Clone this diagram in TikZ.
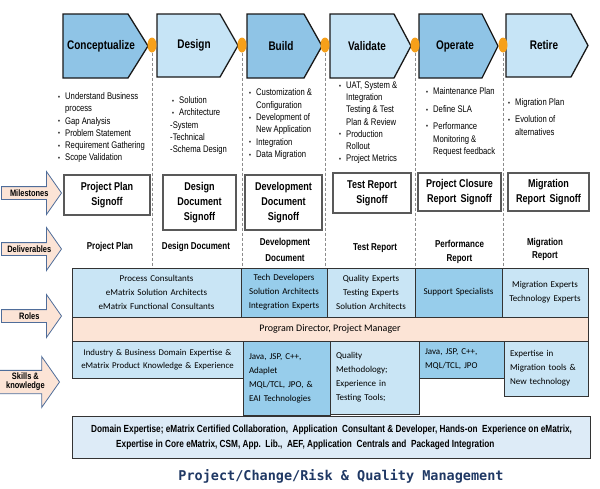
\documentclass[tikz,border=0pt]{standalone}
\usepackage{fontspec}
\setmainfont{Liberation Sans}[FakeStretch=0.8]
\newfontfamily\calfont{Carlito}
\newfontfamily\titlemono{DejaVu Sans Mono}
\usetikzlibrary{shapes.geometric,shapes.arrows,positioning}
\definecolor{chevdark}{HTML}{8FC4E6}
\definecolor{chevlight}{HTML}{C6E4F6}
\definecolor{roledark}{HTML}{97CDEB}
\definecolor{rolelight}{HTML}{C9E5F5}
\definecolor{peach}{HTML}{FCE4D6}
\definecolor{tagline}{HTML}{4F6D9A}
\definecolor{dotorange}{HTML}{F6A01A}
\definecolor{sepgray}{HTML}{8C8C8C}
\definecolor{boxgray}{HTML}{595959}
\definecolor{barblue}{HTML}{DDEBF7}
\definecolor{navy}{HTML}{1F3864}
\newcommand{\bl}{\makebox[7pt][l]{\raisebox{0.5pt}{\scriptsize\textbullet}}}
\newcommand{\ind}{\hspace*{7pt}}
\tikzset{
  phase/.style={draw=black!90,line width=1.3pt,line join=miter},
  phasedark/.style={phase,fill=chevdark},
  phaselight/.style={phase,fill=chevlight},
  phaselabel/.style={inner sep=0pt,font=\bfseries\fontsize{12.5}{14}\selectfont},
  sepdot/.style={ellipse,fill=dotorange,minimum width=9pt,minimum height=15pt,inner sep=0pt},
  sepline/.style={draw=sepgray,line width=1pt,dash pattern=on 3pt off 2pt},
  bullets/.style={anchor=north west,inner sep=0pt,align=left,font=\fontsize{9.6}{12.2}\selectfont},
  tag/.style={single arrow,single arrow head extend=9pt,single arrow tip angle=110,draw=tagline,line width=0.8pt,fill=peach,minimum height=60pt,minimum width=43pt,inner sep=0pt,anchor=tip,align=center,font=\bfseries\fontsize{9.3}{9}\selectfont},
  milestone/.style={draw=boxgray,line width=2pt,fill=white,align=center,inner sep=0pt,font=\bfseries\fontsize{11.3}{15}\selectfont},
  deliv/.style={align=center,inner sep=0pt,font=\bfseries\fontsize{10}{14}\selectfont},
  cell/.style={draw=black!80,line width=0.8pt,outer sep=0pt,inner ysep=0pt,font=\calfont\fontsize{9}{14}\selectfont},
  rolebox/.style={cell,align=center,inner xsep=4pt,minimum height=49pt},
  skillbox/.style={cell,align=left,inner xsep=6pt,anchor=north west},
  every node/.style={font=\fontsize{9.3}{12}\selectfont}
}
\begin{document}
\begin{tikzpicture}[x=1pt,y=-1pt]
\useasboundingbox (0,0) rectangle (600,488);

% phases
\draw[phasedark] (63,14) -- (128,14) -- (148,46) -- (128,78) -- (63,78) -- cycle;
\draw[phaselight] (157,14) -- (220,14) -- (238,45.5) -- (220,77) -- (157,77) -- cycle;
\draw[phasedark] (247,14) -- (304,14) -- (322,46) -- (304,78) -- (247,78) -- cycle;
\draw[phaselight] (330,14) -- (394,14) -- (411,46) -- (394,78) -- (330,78) -- cycle;
\draw[phasedark] (419,14) -- (482,14) -- (498,46) -- (482,78) -- (419,78) -- cycle;
\draw[phaselight] (506,14) -- (571,14) -- (588,45.5) -- (571,77) -- (506,77) -- cycle;
\node[phaselabel] (concept) at (101,46) {Conceptualize};
\node[phaselabel] (design) at (194,45.5) {Design};
\node[phaselabel] (build) at (281,46) {Build};
\node[phaselabel] (validate) at (367,46) {Validate};
\node[phaselabel] (operate) at (455,46) {Operate};
\node[phaselabel] (retire) at (544,45.5) {Retire};

\node[sepdot] (dot1) at (152,45) {};
\node[sepdot] (dot2) at (242,45) {};
\node[sepdot] (dot3) at (325,45) {};
\node[sepdot] (dot4) at (415,45) {};
\node[sepdot] (dot5) at (503,45) {};

\coordinate (rowtop) at (0,268);
\draw[sepline] (dot1.south) -- (dot1.south |- rowtop);
\draw[sepline] (dot2.south) -- (dot2.south |- rowtop);
\draw[sepline] (dot3.south) -- (dot3.south |- rowtop);
\draw[sepline] (dot4.south) -- (dot4.south |- rowtop);
\draw[sepline] (dot5.south) -- (dot5.south |- rowtop);

% activities
\node[bullets] (actconcept) at (58,92.6) {\bl Understand Business\\\ind process\\\bl Gap Analysis\\\bl Problem Statement\\\bl Requirement Gathering\\\bl Scope Validation};
\node[bullets] (actdesign) at (170,96.6) {\hspace*{2pt}\bl Solution\\\hspace*{2pt}\bl Architecture\\-System\\-Technical\\-Schema Design};
\node[bullets,font=\fontsize{9.6}{12.4}\selectfont] (actbuild) at (249,88.6) {\bl Customization \&\\\ind Configuration\\\bl Development of\\\ind New Application\\\bl Integration\\\bl Data Migration};
\node[bullets] (actvalidate) at (339,81.6) {\bl UAT, System \&\\\ind Integration\\\ind Testing \& Test\\\ind Plan \& Review\\\bl Production\\\ind Rollout\\\bl Project Metrics};
\node[bullets,font=\fontsize{9.6}{12.8}\selectfont] (actoperate) at (426,87.6) {\bl Maintenance Plan\\[5pt]\bl Define SLA\\[4pt]\bl Performance\\\ind Monitoring \&\\\ind Request feedback};
\node[bullets] (actretire) at (508,98.6) {\bl Migration Plan\\[5pt]\bl Evolution of\\\ind alternatives};

% row tags
\node[tag] (tagmile) at (62,193) {Milestones};
\node[tag] (tagdeliv) at (62,249) {Deliverables};
\node[tag] (tagroles) at (62,316) {Roles};
\node[tag,minimum width=51pt,single arrow head extend=11pt] (tagskills) at (60,382) {Skills \&\\knowledge};

% milestones
\node[milestone,minimum width=86pt,minimum height=40pt] (msplan) at (107,195) {Project Plan\\Signoff};
\node[milestone,minimum width=73pt,minimum height=55pt] (msdesign) at (199.5,202.5) {Design\\Document\\Signoff};
\node[milestone,minimum width=77pt,minimum height=55pt] (msdev) at (283.5,202.5) {Development\\Document\\Signoff};
\node[milestone,minimum width=78pt,minimum height=40pt] (mstest) at (372,193) {Test Report\\Signoff};
\node[milestone,minimum width=83pt,minimum height=38pt] (msclosure) at (459.5,192) {Project Closure\\Report\, Signoff};
\node[milestone,minimum width=81pt,minimum height=38pt] (msmigr) at (548.5,192) {Migration\\Report\, Signoff};

% deliverables
\node[deliv] (dvplan) at (110,247) {Project Plan};
\node[deliv] (dvdesign) at (196,247) {Design Document};
\node[deliv,font=\bfseries\fontsize{10}{16}\selectfont] (dvdev) at (285,250) {Development\\Document};
\node[deliv] (dvtest) at (375,248) {Test Report};
\node[deliv] (dvperf) at (459.5,252) {Performance\\Report};
\node[deliv,font=\bfseries\fontsize{10}{13}\selectfont] (dvmigr) at (545,249.5) {Migration\\Report};

% roles
\node[rolebox,fill=rolelight,text width=161pt,anchor=north west] (roleproc) at (72,268) {Process Consultants\\eMatrix Solution Architects\\eMatrix Functional Consultants};
\node[rolebox,fill=roledark,text width=78pt,right=0pt of roleproc] (roletech) {Tech Developers\\Solution Architects\\Integration Experts};
\node[rolebox,fill=rolelight,text width=80pt,right=0pt of roletech] (rolequal) {Quality Experts\\Testing Experts\\Solution Architects};
\node[rolebox,fill=roledark,text width=79pt,right=0pt of rolequal] (rolesupp) {Support Specialists};
\node[rolebox,fill=rolelight,text width=78pt,right=0pt of rolesupp] (rolemigr) {Migration Experts\\Technology Experts};
\node[cell,fill=peach,minimum width=516pt,minimum height=24pt,anchor=north west,font=\calfont\fontsize{10}{12}\selectfont] (mgmt) at (roleproc.south west) {Program Director, Project Manager};

% skills
\node[skillbox,fill=rolelight,align=center,text width=159pt,minimum height=37pt,font=\calfont\fontsize{8.8}{13}\selectfont] (skdomain) at (mgmt.south west) {Industry \& Business Domain Expertise \&\\eMatrix Product Knowledge \& Experience};
\node[skillbox,fill=roledark,text width=75pt,minimum height=74pt] (sktech) at (skdomain.north east) {Java, JSP, C++,\\Adaplet\\MQL/TCL, JPO, \&\\EAI Technologies};
\node[skillbox,fill=rolelight,text width=77pt,minimum height=73pt] (skqual) at (sktech.north east) {Quality\\Methodology;\\Experience in\\Testing Tools;};
\node[skillbox,fill=roledark,text width=73pt,minimum height=37pt] (skjava) at (skqual.north east) {Java, JSP, C++,\\MQL/TCL, JPO};
\node[skillbox,fill=rolelight,text width=72pt,minimum height=55pt] (skmigr) at (skjava.north east) {Expertise in\\Migration tools \&\\New technology};

\node[draw=black!80,line width=1.2pt,fill=barblue,minimum width=518pt,minimum height=42pt,anchor=north west,align=left,inner sep=0pt,font=\bfseries\fontsize{10.3}{15}\selectfont] (expertise) at (72,416) {Domain Expertise; eMatrix Certified Collaboration,\ \ Application\ \ Consultant \& Developer, Hands-on\ \ Experience on eMatrix,\\\hspace*{25pt}Expertise in Core eMatrix, CSM, App.\ \ Lib.,\ \ AEF, Application\ \ Centrals and\ \ Packaged Integration};

\node[text=navy,font=\titlemono\bfseries\fontsize{13.5}{16}\selectfont] (title) at (341,476) {Project/Change/Risk \& Quality Management};
\end{tikzpicture}
\end{document}
